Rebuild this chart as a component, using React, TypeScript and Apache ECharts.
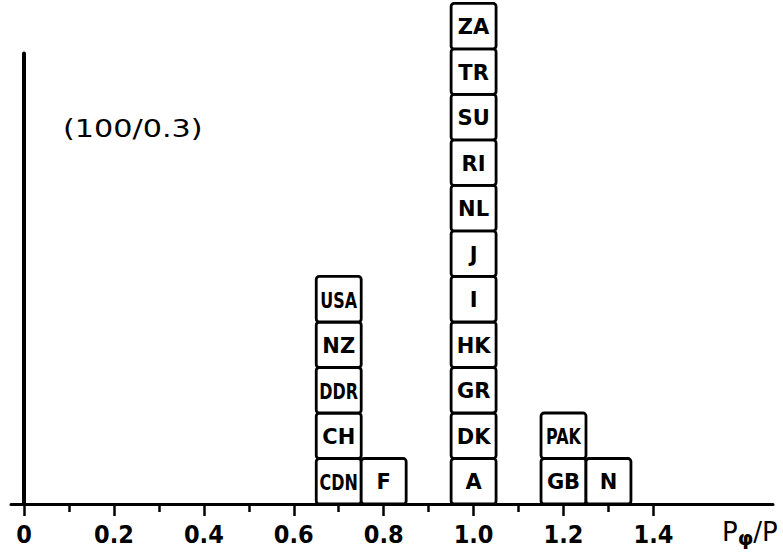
import React, { useEffect, useRef } from "react";
import * as echarts from "echarts";

// Histogram bins (lower edge of each 0.1-wide bin) and the countries stacked in each
const binStarts = [0.65, 0.75, 0.95, 1.15, 1.25];
const binWidth = 0.1;
const binCountries: string[][] = [
  ["CDN", "CH", "DDR", "NZ", "USA"],
  ["F"],
  ["A", "DK", "GR", "HK", "I", "J", "NL", "RI", "SU", "TR", "ZA"],
  ["GB", "PAK"],
  ["N"],
];
const majorTicks = [0, 0.2, 0.4, 0.6, 0.8, 1.0, 1.2, 1.4];
const minorTicks = [0.1, 0.3, 0.5, 0.7, 0.9, 1.1, 1.3];
const annotation = "(100/0.3)";

export default function App() {
  const ref = useRef<HTMLDivElement>(null);
  useEffect(() => {
    if (!ref.current) return;
    const chart = echarts.init(ref.current, undefined, { renderer: "svg" });
    const boxes: (number | string)[][] = [];
    binStarts.forEach((x0, i) => {
      binCountries[i].forEach((name, lvl) => {
        boxes.push([x0, x0 + binWidth, lvl, name]);
      });
    });
    const xMin = -0.029;
    const xMax = 1.666;
    chart.setOption({
      animation: false,
      backgroundColor: "#fff",
      grid: {
        left: 11,
        right: 10,
        top: 53.5,
        bottom: 51,
        containLabel: false,
        outerBoundsMode: "none",
      },
      xAxis: [
        {
          type: "value",
          min: xMin,
          max: xMax,
          axisLine: { show: true, onZero: false, lineStyle: { color: "#000", width: 3 } },
          axisTick: {
            show: true,
            customValues: majorTicks,
            length: 12,
            lineStyle: { color: "#000", width: 2.5 },
          },
          axisLabel: {
            show: true,
            customValues: majorTicks,
            margin: 18,
            color: "#000",
            fontSize: 25,
            fontWeight: "bold",
            fontFamily: "'DejaVu Sans Condensed', 'Liberation Sans Narrow', 'Liberation Sans', sans-serif",
            formatter: (v: number) => (v === 0 ? "0" : v.toFixed(1)),
          },
          splitLine: { show: false },
          name: "P{s|φ}/P",
          nameLocation: "end",
          nameGap: -51,
          nameTextStyle: {
            color: "#000",
            fontSize: 26,
            fontFamily: "'DejaVu Sans', sans-serif",
            verticalAlign: "top",
            align: "left",
            padding: [12, 0, 0, 0],
            rich: {
              s: {
                fontSize: 20,
                fontWeight: "bold",
                fontFamily: "'DejaVu Sans', sans-serif",
                color: "#000",
                padding: [12, 0, 0, 0],
              },
            },
          },
        },
        {
          type: "value",
          min: xMin,
          max: xMax,
          position: "bottom",
          axisLine: { show: false },
          axisTick: {
            show: true,
            customValues: minorTicks,
            length: 8,
            lineStyle: { color: "#000", width: 2.5 },
          },
          axisLabel: { show: false },
          splitLine: { show: false },
        },
      ],
      yAxis: {
        type: "value",
        min: 0,
        max: 9.9,
        axisLine: { show: true, onZero: true, lineStyle: { color: "#000", width: 4 } },
        axisTick: { show: false },
        axisLabel: { show: false },
        splitLine: { show: false },
      },
      graphic: [
        {
          type: "text",
          left: 63,
          top: 117,
          style: {
            text: annotation,
            fontSize: 24,
            fontFamily: "'DejaVu Sans', sans-serif",
            fill: "#000",
          },
          scaleX: 1.26,
        },
      ],
      series: [
        {
          type: "custom",
          xAxisIndex: 0,
          yAxisIndex: 0,
          clip: false,
          data: boxes,
          encode: { x: [0, 1], y: 2 },
          renderItem: (params: any, api: any) => {
            const x0 = api.value(0);
            const x1 = api.value(1);
            const lvl = api.value(2);
            const name = String(boxes[params.dataIndex][3]);
            const p0 = api.coord([x0, lvl]);
            const p1 = api.coord([x1, lvl + 1]);
            const w = p1[0] - p0[0];
            const h = p0[1] - p1[1];
            const sx = name.length >= 3 ? 0.76 : 1;
            return {
              type: "group",
              children: [
                {
                  type: "rect",
                  shape: { x: p0[0], y: p1[1], width: w, height: h, r: 3 },
                  style: { fill: "#fff", stroke: "#000", lineWidth: 2.8 },
                },
                {
                  type: "text",
                  x: p0[0] + w / 2,
                  y: p1[1] + h / 2 + 1,
                  scaleX: sx,
                  style: {
                    text: name,
                    fontSize: 21,
                    fontWeight: "bold",
                    fontFamily: "'DejaVu Sans', sans-serif",
                    fill: "#000",
                    align: "center",
                    verticalAlign: "middle",
                  },
                },
              ],
            };
          },
        },
      ],
    });
    return () => chart.dispose();
  }, []);
  return <div ref={ref} style={{ width: 783, height: 555, position: "absolute", left: 0, top: 0 }} />;
}
